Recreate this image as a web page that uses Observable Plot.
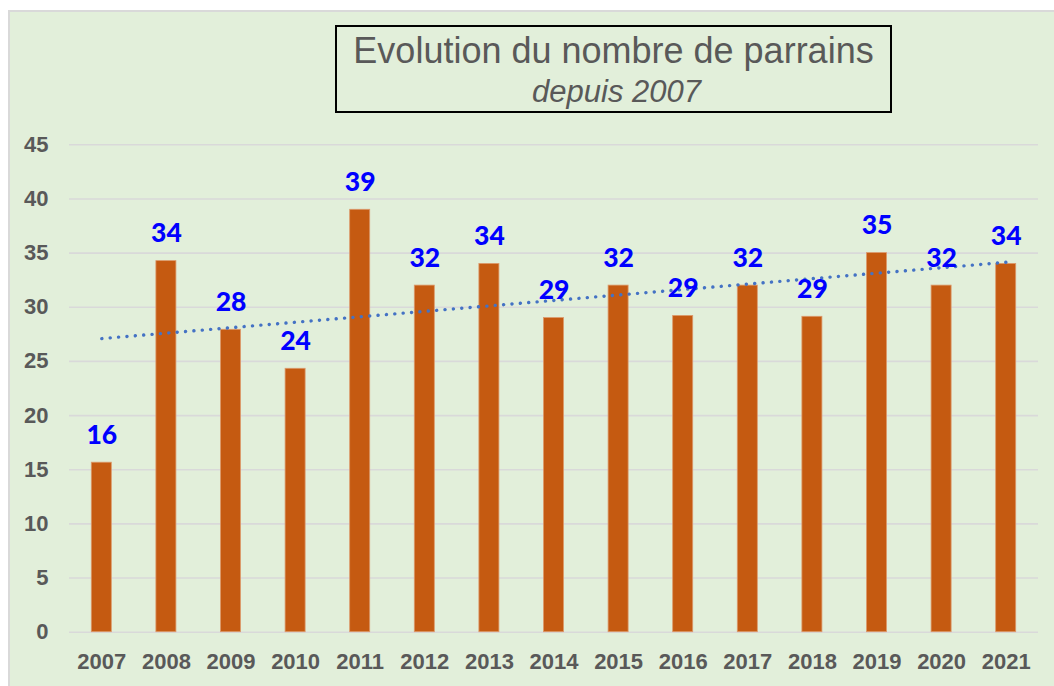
<!DOCTYPE html>
<html>
<head>
<meta charset="utf-8">
<script src="https://cdn.jsdelivr.net/npm/d3@7"></script>
<script src="https://cdn.jsdelivr.net/npm/@observablehq/plot@0.6"></script>
<style>
  html, body { margin: 0; padding: 0; background: #ffffff; }
  #wrap { position: relative; width: 1054px; height: 686px; overflow: hidden; }
  #bg { position: absolute; left: 8px; top: 10px; width: 1070px; height: 700px; background: #e2efda; border: 2px solid #d9d9d9; box-sizing: border-box; }
  #chart { position: absolute; left: 0; top: 0; }
  #titlebox { position: absolute; left: 335px; top: 25px; width: 557px; height: 88px; border: 2px solid #000000; box-sizing: border-box; }
  .t1 { position: absolute; left: 0; width: 100%; text-align: center; font-family: "Liberation Sans", Arial, sans-serif; color: #595959; white-space: nowrap; }
</style>
</head>
<body>
<div id="wrap">
  <div id="bg"></div>
  <div id="chart"></div>
  <div id="titlebox"></div>
  <div class="t1" style="left:335px;width:557px;top:32.8px;font-size:36px;line-height:36px;">Evolution du nombre de parrains</div>
  <div class="t1" style="left:338px;width:557px;top:76px;font-size:31px;line-height:31px;font-style:italic;">depuis 2007</div>
</div>
<script>
const years = [2007, 2008, 2009, 2010, 2011, 2012, 2013, 2014, 2015, 2016, 2017, 2018, 2019, 2020, 2021];
const values = [15.65, 34.26, 27.92, 24.32, 39.0, 32.0, 34.0, 29.0, 32.0, 29.2, 32.0, 29.12, 35.0, 32.0, 34.0];
const labels = ["16", "34", "28", "24", "39", "32", "34", "29", "32", "29", "32", "29", "35", "32", "34"];
const yTicks = [0, 5, 10, 15, 20, 25, 30, 35, 40, 45];

const data = years.map((y, i) => ({year: String(y), value: values[i], label: labels[i]}));

// Linear trend line (least squares over year index), as Excel's linear trendline
const n = values.length;
const xm = (n - 1) / 2;
const ym = d3.mean(values);
let sxy = 0, sxx = 0;
values.forEach((v, i) => { sxy += (i - xm) * (v - ym); sxx += (i - xm) * (i - xm); });
const slope = sxy / sxx;
const trend = [
  {year: String(years[0]), value: ym + slope * (0 - xm)},
  {year: String(years[n - 1]), value: ym + slope * (n - 1 - xm)}
];

const axisFont = '"Liberation Sans Narrow", "Arial Narrow", "Liberation Sans", Arial, sans-serif';

const chart = Plot.plot({
  width: 1054,
  height: 686,
  marginLeft: 69,
  marginRight: 16,
  marginTop: 144.3,
  marginBottom: 54.3,
  style: {background: "transparent", overflow: "visible"},
  x: {domain: years.map(String), paddingInner: 0.69, paddingOuter: 0.345, round: false, label: null},
  y: {domain: [0, 45], label: null},
  marks: [
    Plot.ruleY(yTicks, {stroke: "#d9d9d9", strokeWidth: 1.6}),
    Plot.barY(data, {x: "year", y: "value", fill: "#c55a11", stroke: "#dc9a6c", strokeWidth: 0.8}),
    Plot.line(trend, {x: "year", y: "value", stroke: "#4472c4", strokeWidth: 3.4, strokeDasharray: "0.1,8.3", strokeLinecap: "round"}),
    Plot.text(data, {x: "year", y: "value", text: "label", dy: -27.5, fill: "#0000ff", fontSize: 26.5, fontWeight: 900, fontFamily: "Lato, 'Open Sans', sans-serif"}),
    Plot.axisY({ticks: yTicks, tickSize: 0, tickPadding: 21, fontSize: 22, fontWeight: "bold", fontFamily: axisFont, fill: "#595959", label: null}),
    Plot.axisX({tickSize: 0, tickPadding: 21, fontSize: 22, fontWeight: "bold", fontFamily: axisFont, fill: "#595959", label: null})
  ]
});
document.getElementById("chart").appendChild(chart);
</script>
</body>
</html>
